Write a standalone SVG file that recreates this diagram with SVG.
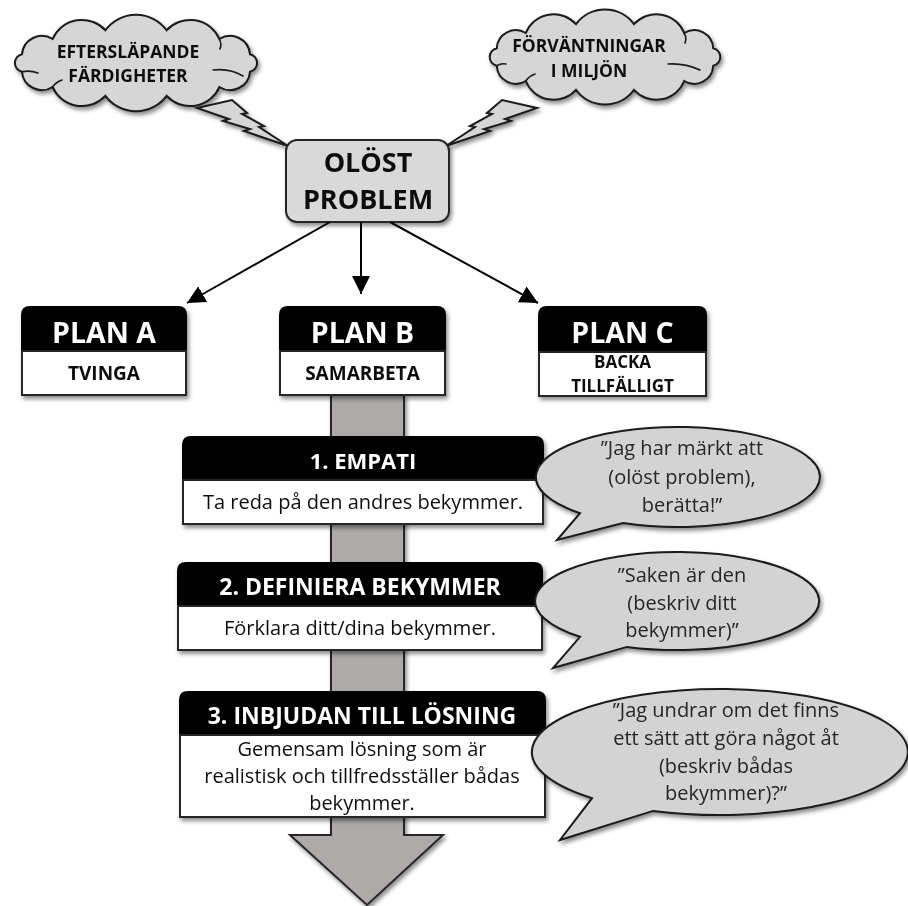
<svg xmlns="http://www.w3.org/2000/svg" width="908" height="906" viewBox="0 0 908 906">
<style>
.bold{font-family:"Open Sans","Liberation Sans",sans-serif;font-weight:700;text-anchor:middle;}
.reg{font-family:"Open Sans","Liberation Sans",sans-serif;font-weight:400;text-anchor:middle;}
.cloud{fill:#d6d6d6;stroke:#1a1a1a;stroke-width:2;}
.curl{fill:none;stroke:#1a1a1a;stroke-width:1.6;stroke-linecap:round;}
.bolt{fill:#d6d6d6;stroke:#1a1a1a;stroke-width:2;stroke-linejoin:miter;}
.gbox{fill:#d9d9d9;stroke:#262626;stroke-width:2;}
.hdr{fill:#000;stroke:#000;stroke-width:2;}
.body{fill:#fff;stroke:#262626;stroke-width:2;}
.bubble{fill:#d3d3d3;stroke:#1a1a1a;stroke-width:2;stroke-linejoin:miter;}
.conn{stroke:#000;stroke-width:2;fill:none;}
.wt{fill:#fff;}
.dk{fill:#111;}
.bt{fill:#262626;}
</style>
<defs>
<filter id="sh" x="-10%" y="-10%" width="130%" height="140%">
<feDropShadow dx="2" dy="3" stdDeviation="2" flood-color="#000" flood-opacity="0.45"/>
</filter>
<marker id="ah" viewBox="0 0 10 10" refX="10" refY="5" markerWidth="18" markerHeight="18" markerUnits="userSpaceOnUse" orient="auto">
<path d="M0,0 L10,5 L0,10 Z" fill="#000"/>
</marker>
</defs>

<g id="big-arrow" filter="url(#sh)">
<path d="M331,395 H404 V835 H443 L367,905 L290,835 H331 Z" fill="#aeaaaa" stroke="#262626" stroke-width="2"/>
</g>

<g id="cloud-skills" filter="url(#sh)">
<path class="cloud" d="M22,71.8 A9 9 0 0 1 22,54.2 A20 20 0 0 1 52.6,39 A32 32 0 0 1 105.4,30.2 A38 38 0 0 1 166.6,30.2 A32 32 0 0 1 219.4,39 A20 20 0 0 1 250,54.2 A9 9 0 0 1 250,71.8 A20 20 0 0 1 219.4,87 A32 32 0 0 1 166.6,95.8 A38 38 0 0 1 105.4,95.8 A32 32 0 0 1 52.6,87 A20 20 0 0 1 22,71.8 Z"/>
<path class="curl" d="M22,71.8 Q30,70 38,73 M213,70 Q230,68 243,76 M52.6,87 Q56,82 62,80 M219.4,39 Q222,44 220,49"/>
<text class="bold dk" x="128" y="58" font-size="17.5">EFTERSLÄPANDE</text>
<text class="bold dk" x="128" y="82" font-size="17.5">FÄRDIGHETER</text>
</g>

<g id="cloud-expect" filter="url(#sh)">
<path class="cloud" d="M496.8,65.8 A9 9 0 0 1 496.8,48.2 A19 19 0 0 1 525.8,33 A30 30 0 0 1 576,24.2 A36 36 0 0 1 634,24.2 A30 30 0 0 1 684.2,33 A19 19 0 0 1 713.2,48.2 A9 9 0 0 1 713.2,65.8 A19 19 0 0 1 684.2,81 A30 30 0 0 1 634,89.8 A36 36 0 0 1 576,89.8 A30 30 0 0 1 525.8,81 A19 19 0 0 1 496.8,65.8 Z"/>
<path class="curl" d="M496.8,65.8 Q501,63 506,64 M668,64 Q685,63 700,70 M525.8,81 Q529,76 535,74 M684.2,33 Q687,38 685,43"/>
<text class="bold dk" x="589" y="52" font-size="17.5">FÖRVÄNTNINGAR</text>
<text class="bold dk" x="589" y="77" font-size="17.5">I MILJÖN</text>
</g>

<g id="bolts" filter="url(#sh)">
<polygon class="bolt" points="197,108 232,100 247,113 242,114 264,126 259,127 288,146 244,131 250,129 223,121 229,119"/>
<polygon class="bolt" points="537,108 502,100 487,113 492,114 470,126 475,127 446,146 490,131 484,129 511,121 505,119"/>
</g>

<g id="olost-problem" filter="url(#sh)">
<rect class="gbox" x="286" y="140" width="163" height="82" rx="11"/>
<text class="bold dk" x="368" y="172" font-size="27">OLÖST</text>
<text class="bold dk" x="368" y="209" font-size="27">PROBLEM</text>
</g>

<g id="connectors">
<line class="conn" x1="330" y1="222" x2="187" y2="303" marker-end="url(#ah)"/>
<line class="conn" x1="361" y1="222" x2="361" y2="294" marker-end="url(#ah)"/>
<line class="conn" x1="390" y1="222" x2="538" y2="303" marker-end="url(#ah)"/>
</g>

<g id="plan-a" filter="url(#sh)">
<path class="hdr" d="M22,351 V315 Q22,307 30,307 H178 Q186,307 186,315 V351 Z"/>
<rect class="body" x="22" y="351" width="164" height="44"/>
<text class="bold wt" x="104" y="343" font-size="28.5">PLAN A</text>
<text class="bold dk" x="104" y="380" font-size="19">TVINGA</text>
</g>

<g id="plan-b" filter="url(#sh)">
<path class="hdr" d="M280,351 V315 Q280,307 288,307 H437 Q445,307 445,315 V351 Z"/>
<rect class="body" x="280" y="351" width="165" height="44"/>
<text class="bold wt" x="362.5" y="343" font-size="28.5">PLAN B</text>
<text class="bold dk" x="362.5" y="380" font-size="19">SAMARBETA</text>
</g>

<g id="plan-c" filter="url(#sh)">
<path class="hdr" d="M539,352 V315 Q539,307 547,307 H698 Q706,307 706,315 V352 Z"/>
<rect class="body" x="539" y="352" width="167" height="44"/>
<text class="bold wt" x="622.5" y="343" font-size="28.5">PLAN C</text>
<text class="bold dk" x="622.5" y="368" font-size="17">BACKA</text>
<text class="bold dk" x="622.5" y="392" font-size="17">TILLFÄLLIGT</text>
</g>

<g id="step-1" filter="url(#sh)">
<path class="hdr" d="M183,480 V445 Q183,437 191,437 H535 Q543,437 543,445 V480 Z"/>
<rect class="body" x="183" y="480" width="360" height="44"/>
<text class="bold wt" x="363" y="469" font-size="22">1. EMPATI</text>
<text class="reg dk" x="363" y="509" font-size="20">Ta reda på den andres bekymmer.</text>
</g>

<g id="step-2" filter="url(#sh)">
<path class="hdr" d="M178,606 V571 Q178,563 186,563 H534 Q542,563 542,571 V606 Z"/>
<rect class="body" x="178" y="606" width="364" height="44"/>
<text class="bold wt" x="360" y="595" font-size="23">2. DEFINIERA BEKYMMER</text>
<text class="reg dk" x="360" y="635" font-size="20">Förklara ditt/dina bekymmer.</text>
</g>

<g id="step-3" filter="url(#sh)">
<path class="hdr" d="M180,735 V700 Q180,692 188,692 H537 Q545,692 545,700 V735 Z"/>
<rect class="body" x="180" y="735" width="365" height="82"/>
<text class="bold wt" x="362" y="724" font-size="23">3. INBJUDAN TILL LÖSNING</text>
<text class="reg dk" x="362" y="756" font-size="20">Gemensam lösning som är</text>
<text class="reg dk" x="362" y="783" font-size="20">realistisk och tillfredsställer bådas</text>
<text class="reg dk" x="362" y="810" font-size="20">bekymmer.</text>
</g>

<g id="bubble-1" filter="url(#sh)">
<path class="bubble" d="M580,513.2 A142 50 0 1 1 623,523.1 L557,540 Z"/>
<text class="reg bt" x="682" y="455" font-size="20">”Jag har märkt att</text>
<text class="reg bt" x="682" y="484" font-size="20">(olöst problem),</text>
<text class="reg bt" x="682" y="512" font-size="20">berätta!”</text>
</g>

<g id="bubble-2" filter="url(#sh)">
<path class="bubble" d="M580,636.8 A142 49 0 1 1 627,646.9 L553,668 Z"/>
<text class="reg bt" x="682" y="582" font-size="20">”Saken är den</text>
<text class="reg bt" x="682" y="610" font-size="20">(beskriv ditt</text>
<text class="reg bt" x="682" y="637" font-size="20">bekymmer)”</text>
</g>

<g id="bubble-3" filter="url(#sh)">
<path class="bubble" d="M592,798.2 A188 63 0 1 1 653,810.9 L560,840 Z"/>
<text class="reg bt" x="726" y="717" font-size="20">”Jag undrar om det finns</text>
<text class="reg bt" x="726" y="745" font-size="20">ett sätt att göra något åt</text>
<text class="reg bt" x="726" y="773" font-size="20">(beskriv bådas</text>
<text class="reg bt" x="726" y="800" font-size="20">bekymmer)?”</text>
</g>
</svg>
